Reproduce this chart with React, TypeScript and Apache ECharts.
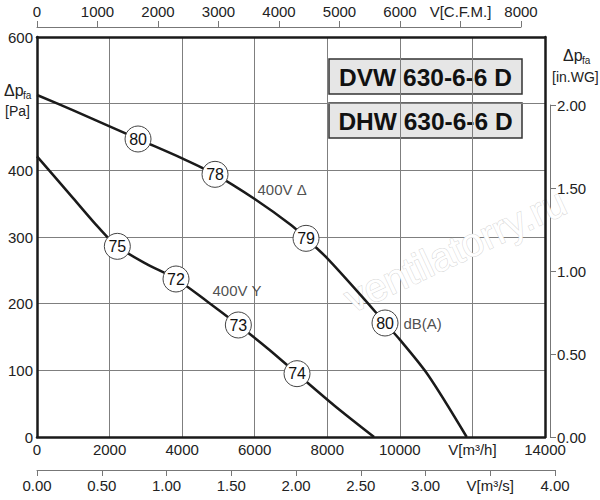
import React, { useEffect, useRef } from "react";
import * as echarts from "echarts";

const FONT = "'Liberation Sans', Arial, sans-serif";

// 400V Δ curve (m³/h, Pa)
const flowDelta = [0, 1000, 2000, 2784, 4000, 4906, 6000, 7000, 7414, 8000, 9000, 9591, 10000, 10776, 11842];
const paDelta = [513, 490, 466, 447, 418, 394, 357, 318, 298, 268, 208, 171, 146, 93, 0];
// 400V Y curve
const flowY = [0, 1000, 1700, 2214, 3000, 3831, 4700, 5549, 6400, 7166, 8200, 9290];
const paY = [421, 358, 314, 286, 260, 237, 203, 168, 131, 95, 47, 0];

// sound level markers
const markerFlow = [2784, 4906, 7414, 9591, 2214, 3831, 5549, 7166];
const markerPa = [447, 394, 298, 171, 286, 237, 168, 95];
const markerText = ["80", "78", "79", "80", "75", "72", "73", "74"];

// annotation texts
const noteFlow = [6063, 4823, 10087];
const notePa = [372, 220, 170];
const noteText = ["400V Δ", "400V Y", "dB(A)"];

const titles = ["DVW 630-6-6 D", "DHW 630-6-6 D"];

export default function App() {
  const ref = useRef<HTMLDivElement>(null);
  useEffect(() => {
    const chart = echarts.init(ref.current!, null, { renderer: "svg" });
    const lbl = { fontFamily: FONT, fontSize: 15, color: "#222" };
    const frame = () => ({ show: true, onZero: false, lineStyle: { color: "#1a1a1a", width: 2.5 } });
    const split = () => ({ show: true, lineStyle: { color: "#7f7f7f", width: 1 } });
    const hidden = () => ({ type: "value", min: 0, max: 1, show: false, splitLine: { show: false }, axisLine: { show: false }, axisTick: { show: false }, axisLabel: { show: false } });
    const option: any = {
      animation: false,
      grid: [
        { left: 37, top: 37, width: 508, height: 400 },
        { left: 37, top: 27, width: 484, height: 100 },
        { left: 37, top: 370, width: 518, height: 100 },
        { left: 450, top: 105, width: 100, height: 332 },
      ],
      xAxis: [
        {
          gridIndex: 0, type: "value", position: "bottom", min: 0, max: 14000, interval: 2000,
          axisLine: frame(), axisTick: { show: false }, splitLine: split(),
          axisLabel: { ...lbl, margin: 5, formatter: (v: number) => (v === 12000 ? "V[m³/h]" : String(v)) },
        },
        {
          gridIndex: 0, type: "value", position: "top", min: 0, max: 14000, interval: 2000, z: 6,
          axisLine: frame(), axisTick: { show: false }, splitLine: { show: false }, axisLabel: { show: false },
        },
        {
          gridIndex: 1, type: "value", position: "top", min: 0, max: 8000, interval: 1000,
          axisLine: { show: true, onZero: false, lineStyle: { color: "#777", width: 1 } },
          axisTick: { show: true, length: 6, lineStyle: { color: "#777" } },
          splitLine: { show: false },
          axisLabel: { ...lbl, margin: 8, formatter: (v: number) => (v === 7000 ? "V[C.F.M.]" : String(v)) },
        },
        {
          gridIndex: 2, type: "value", position: "bottom", min: 0, max: 4, interval: 0.5,
          axisLine: { show: true, onZero: false, lineStyle: { color: "#777", width: 1 } },
          axisTick: { show: true, length: 6, lineStyle: { color: "#777" } },
          splitLine: { show: false },
          axisLabel: { ...lbl, margin: 8, formatter: (v: number) => (Math.abs(v - 3.5) < 1e-6 ? "V[m³/s]" : v.toFixed(2)) },
        },
        { gridIndex: 3, ...hidden() },
      ],
      yAxis: [
        {
          gridIndex: 0, type: "value", position: "left", min: 0, max: 600, interval: 100,
          axisLine: frame(), axisTick: { show: false }, splitLine: split(),
          axisLabel: { ...lbl, margin: 4, formatter: (v: number) => (v === 500 ? "" : String(v)) },
        },
        {
          gridIndex: 0, type: "value", position: "right", min: 0, max: 600, interval: 100, z: 6,
          axisLine: frame(), axisTick: { show: false }, splitLine: { show: false }, axisLabel: { show: false },
        },
        {
          gridIndex: 3, type: "value", position: "right", min: 0, max: 2, interval: 0.5,
          axisLine: { show: true, onZero: false, lineStyle: { color: "#777", width: 1 } },
          axisTick: { show: true, length: 6, lineStyle: { color: "#777" } },
          splitLine: { show: false },
          axisLabel: { ...lbl, margin: 7, formatter: (v: number) => v.toFixed(2) },
        },
        { gridIndex: 1, ...hidden() },
        { gridIndex: 2, ...hidden() },
      ],
      graphic: [
        {
          type: "text", x: 455, y: 250, rotation: (25 * Math.PI) / 180, z: 1,
          style: { text: "ventilatorry.ru", font: `40px ${FONT}`, fill: "#fff", stroke: "#d6d6d6", lineWidth: 1, textAlign: "center", textVerticalAlign: "middle" },
        },
        ...titles.map((t, i) => ({
          type: "group", z: 10,
          children: [
            { type: "rect", shape: { x: 329, y: 59 + i * 44, width: 193, height: 35 }, style: { fill: "#e6e6e6", stroke: "#333", lineWidth: 1.5 } },
            { type: "text", x: 425.5, y: 77 + i * 44, style: { text: t, font: `bold 24.5px ${FONT}`, fill: "#111", textAlign: "center", textVerticalAlign: "middle" } },
          ],
        })),
        { type: "text", x: 4, y: 82, style: { text: "Δp", font: `16px ${FONT}`, fill: "#222" } },
        { type: "text", x: 23, y: 90, style: { text: "fa", font: `10px ${FONT}`, fill: "#222" } },
        { type: "text", x: 5, y: 104, style: { text: "[Pa]", font: `14px ${FONT}`, fill: "#222" } },
        { type: "text", x: 563, y: 47, style: { text: "Δp", font: `16px ${FONT}`, fill: "#222" } },
        { type: "text", x: 582, y: 55, style: { text: "fa", font: `10px ${FONT}`, fill: "#222" } },
        { type: "text", x: 552, y: 70, style: { text: "[in.WG]", font: `14px ${FONT}`, fill: "#222" } },
      ],
      series: [
        {
          type: "line", xAxisIndex: 0, yAxisIndex: 0, smooth: 0.3, symbol: "none", z: 5,
          lineStyle: { color: "#1a1a1a", width: 2.5 },
          data: flowDelta.map((f, i) => [f, paDelta[i]]),
        },
        {
          type: "line", xAxisIndex: 0, yAxisIndex: 0, smooth: 0.3, symbol: "none", z: 5,
          lineStyle: { color: "#1a1a1a", width: 2.5 },
          data: flowY.map((f, i) => [f, paY[i]]),
        },
        {
          type: "scatter", xAxisIndex: 0, yAxisIndex: 0, symbol: "circle", symbolSize: 26, z: 6,
          itemStyle: { color: "#fff", borderColor: "#444", borderWidth: 1, opacity: 1 },
          label: { show: true, position: "inside", fontFamily: FONT, fontSize: 16, color: "#111", formatter: (p: any) => p.value[2] },
          data: markerFlow.map((f, i) => [f, markerPa[i], markerText[i]]),
        },
        {
          type: "scatter", xAxisIndex: 0, yAxisIndex: 0, symbolSize: 1, z: 6,
          itemStyle: { color: "rgba(0,0,0,0)" },
          label: { show: true, position: "right", distance: 0, fontFamily: FONT, fontSize: 15, color: "#222", formatter: (p: any) => p.value[2] },
          data: noteFlow.map((f, i) => [f, notePa[i], noteText[i]]),
        },
      ],
    };
    chart.setOption(option);
    return () => chart.dispose();
  }, []);
  return <div ref={ref} style={{ position: "fixed", left: 0, top: 0, width: 600, height: 500, background: "#fff" }} />;
}
